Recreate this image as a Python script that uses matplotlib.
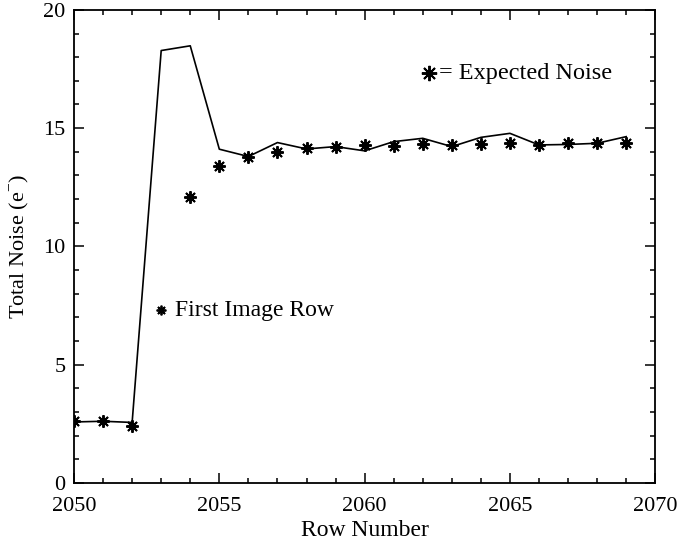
import numpy as np
import matplotlib
matplotlib.use("Agg")
import matplotlib.pyplot as plt
from matplotlib.ticker import MultipleLocator

# ----------- Data -----------
rows = np.arange(2050, 2070)
total_noise = [2.58, 2.61, 2.56, 18.28, 18.48, 14.11, 13.80, 14.39, 14.12, 14.22,
               14.04, 14.43, 14.57, 14.22, 14.61, 14.78, 14.29, 14.31, 14.36, 14.64]
expected_noise = [2.60, 2.60, 2.42, 7.31, 12.11, 13.40, 13.80, 14.01, 14.15, 14.19,
                  14.28, 14.24, 14.32, 14.29, 14.33, 14.36, 14.29, 14.36, 14.39, 14.39]
# the 2053 expected value doubles as the "First Image Row" marker
first_row = 2053

FONT = "Liberation Serif"
plt.rcParams["font.family"] = FONT
plt.rcParams["mathtext.fontset"] = "custom"
plt.rcParams["mathtext.rm"] = FONT

ASTERISK = (8, 2, 0)

fig = plt.figure(figsize=(6.79, 5.47), dpi=100)
ax = fig.add_axes([0.109, 0.117, 0.856, 0.865])

ax.plot(rows, total_noise, color="black", linewidth=1.2)

mask = rows != first_row
ax.plot(rows[mask], np.array(expected_noise)[mask], linestyle="none",
        marker=ASTERISK, markersize=9, markeredgewidth=1.4, color="black")

# first image row label
fi = int(np.where(rows == first_row)[0][0])
ax.plot(first_row, expected_noise[fi], marker=ASTERISK, markersize=7,
        markeredgewidth=1.3, color="black")
ax.text(first_row + 0.47, expected_noise[fi], "First Image Row", fontsize=17,
        ha="left", va="center")

# legend key
ax.plot(2062.2, 17.32, marker=ASTERISK, markersize=11, markeredgewidth=1.4,
        color="black")
ax.text(2062.55, 17.32, "= Expected Noise", fontsize=17.5, ha="left", va="center")

ax.set_xlim(2050, 2070)
ax.set_ylim(0, 20)
ax.xaxis.set_major_locator(MultipleLocator(5))
ax.xaxis.set_minor_locator(MultipleLocator(1))
ax.yaxis.set_major_locator(MultipleLocator(5))
ax.yaxis.set_minor_locator(MultipleLocator(1))
ax.tick_params(which="both", direction="in", top=True, right=True,
               labelsize=16, width=1.1)
ax.tick_params(axis="x", pad=10)
ax.tick_params(axis="y", pad=6)
ax.tick_params(which="major", length=7)
ax.tick_params(which="minor", length=3.5)
for spine in ax.spines.values():
    spine.set_linewidth(1.3)

ax.set_xlabel("Row Number", fontsize=17, labelpad=3)
ax.set_ylabel(r"Total Noise (e$^{-}$)", fontsize=16, labelpad=9)

fig.savefig("out.png", dpi=100)
